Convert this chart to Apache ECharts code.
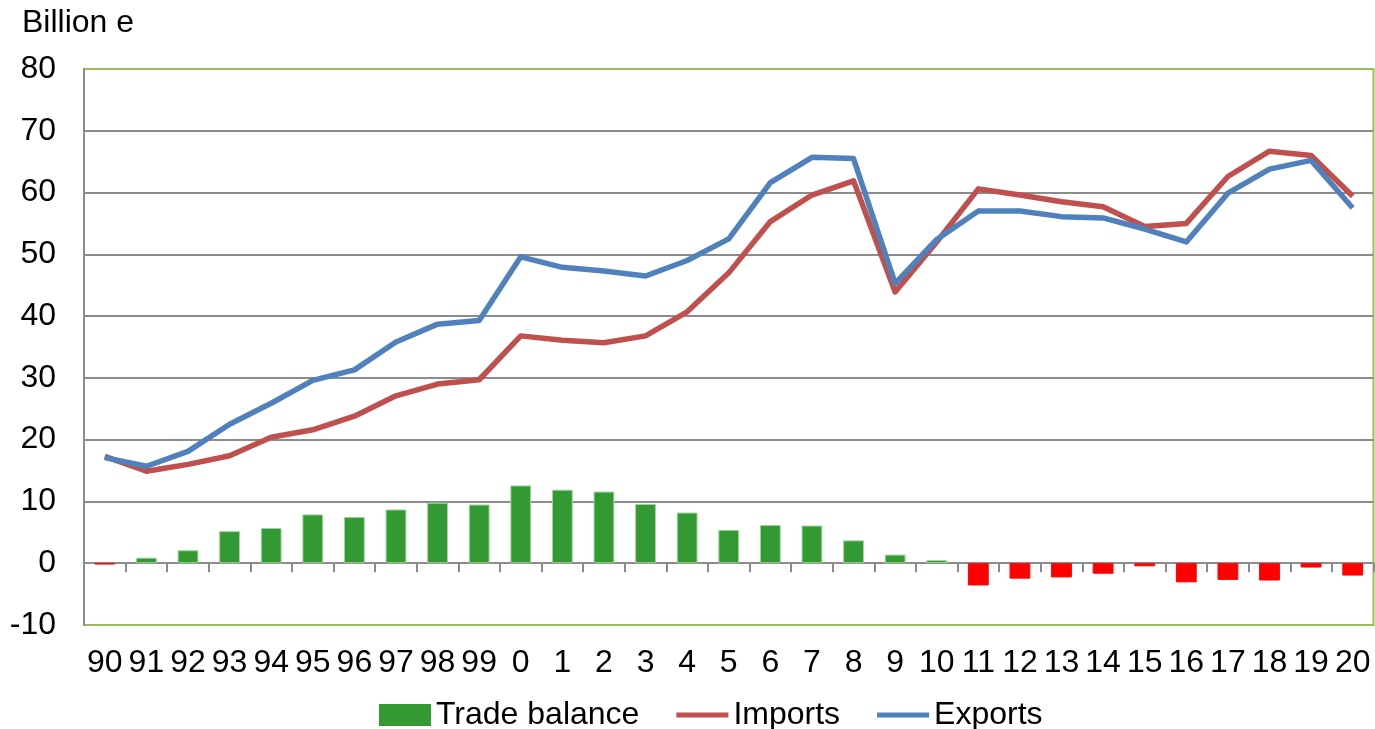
<!DOCTYPE html>
<html>
<head>
<meta charset="utf-8">
<script src="https://cdn.jsdelivr.net/npm/echarts@6/dist/echarts.min.js"></script>
<style>
  html, body { margin: 0; padding: 0; background: #fff; }
  #chart { width: 1375px; height: 729px; }
</style>
</head>
<body>
<div id="chart"></div>
<script>
// years, 1990 .. 2020
var years = ['90', '91', '92', '93', '94', '95', '96', '97', '98', '99',
  '0', '1', '2', '3', '4', '5', '6', '7', '8', '9', '10',
  '11', '12', '13', '14', '15', '16', '17', '18', '19', '20'];

var tradeBalance = [-0.2, 0.9, 2.1, 5.2, 5.7, 7.9, 7.5, 8.7, 9.8, 9.5,
  12.6, 11.9, 11.6, 9.6, 8.2, 5.4, 6.2, 6.1, 3.7, 1.4, 0.5,
  -3.6, -2.5, -2.3, -1.7, -0.5, -3.1, -2.7, -2.8, -0.7, -2.0];

var imports = [17.3, 14.9, 16.0, 17.4, 20.4, 21.6, 23.8, 27.1, 29.0, 29.7,
  36.8, 36.1, 35.7, 36.8, 40.7, 47.0, 55.3, 59.6, 61.9, 43.9, 52.0,
  60.6, 59.6, 58.5, 57.7, 54.5, 55.0, 62.6, 66.7, 66.0, 59.4];

var exports = [17.1, 15.7, 18.1, 22.5, 25.9, 29.6, 31.3, 35.8, 38.7, 39.3,
  49.6, 47.9, 47.3, 46.5, 49.0, 52.5, 61.6, 65.7, 65.5, 45.3, 52.4,
  57.0, 57.0, 56.1, 55.9, 54.1, 52.0, 59.9, 63.8, 65.2, 57.5];

var yTicks = { min: -10, max: 80, step: 10 };

var chart = echarts.init(document.getElementById('chart'));
var font = 'Liberation Sans, Arial, sans-serif';
var fs = 32;
var lineIcon = 'path://M0,0 L52,0 L52,5 L0,5 Z';

// grid lines: bottom and top ones belong to the green frame
var splitColors = [];
for (var v = yTicks.min; v <= yTicks.max; v += yTicks.step) {
  splitColors.push(v === yTicks.min || v === yTicks.max ? '#9BBB59' : '#8c8c8c');
}

chart.setOption({
  animation: false,
  title: {
    text: 'Billion e',
    left: 17,
    top: 2,
    textStyle: { fontFamily: font, fontSize: fs, fontWeight: 'normal', color: '#000' }
  },
  grid: {
    left: 84,
    right: 1.5,
    top: 69,
    bottom: 104,
    show: true,
    borderColor: '#9BBB59',
    borderWidth: 2
  },
  legend: {
    left: 374,
    top: 694,
    itemWidth: 52,
    itemHeight: 22,
    itemGap: 37,
    textStyle: { fontFamily: font, fontSize: fs, color: '#000' },
    data: [
      { name: 'Trade balance', icon: 'rect', itemStyle: { color: '#339933', borderWidth: 0 } },
      { name: 'Imports', icon: lineIcon, itemStyle: { color: '#C0504D' } },
      { name: 'Exports', icon: lineIcon, itemStyle: { color: '#4F81BD' } }
    ]
  },
  xAxis: [
    {
      // zero line with the ticks
      type: 'category',
      data: years,
      axisLine: { onZero: true, lineStyle: { color: '#8c8c8c', width: 2 } },
      axisTick: { show: true, length: 9, lineStyle: { color: '#8c8c8c', width: 2 } },
      axisLabel: { show: false },
      splitLine: { show: false }
    },
    {
      // labels under the plot
      type: 'category',
      data: years,
      position: 'bottom',
      axisLine: { show: false, onZero: false },
      axisTick: { show: false },
      axisLabel: { interval: 0, margin: 22, fontFamily: font, fontSize: fs, color: '#000' },
      splitLine: { show: false }
    }
  ],
  yAxis: {
    type: 'value',
    min: yTicks.min,
    max: yTicks.max,
    interval: yTicks.step,
    axisLine: { show: true, lineStyle: { color: '#8c8c8c', width: 2 } },
    axisTick: { show: false },
    axisLabel: { margin: 28, fontFamily: font, fontSize: fs, color: '#000' },
    splitLine: { show: true, lineStyle: { color: splitColors, width: 2 } }
  },
  series: [
    {
      name: 'Trade balance',
      type: 'bar',
      xAxisIndex: 0,
      barWidth: '50%',
      data: tradeBalance.map(function (v) {
        return v < 0
          ? { value: v, itemStyle: { color: '#FF0000', borderColor: '#FF0000', borderWidth: 1 } }
          : { value: v, itemStyle: { color: '#339933', borderColor: '#9fd49f', borderWidth: 1 } };
      })
    },
    {
      name: 'Imports',
      type: 'line',
      xAxisIndex: 0,
      symbol: 'none',
      lineStyle: { color: '#C0504D', width: 5.5, join: 'round' },
      itemStyle: { color: '#C0504D' },
      data: imports
    },
    {
      name: 'Exports',
      type: 'line',
      xAxisIndex: 0,
      symbol: 'none',
      lineStyle: { color: '#4F81BD', width: 5.5, join: 'round' },
      itemStyle: { color: '#4F81BD' },
      data: exports
    }
  ]
});
</script>
</body>
</html>
